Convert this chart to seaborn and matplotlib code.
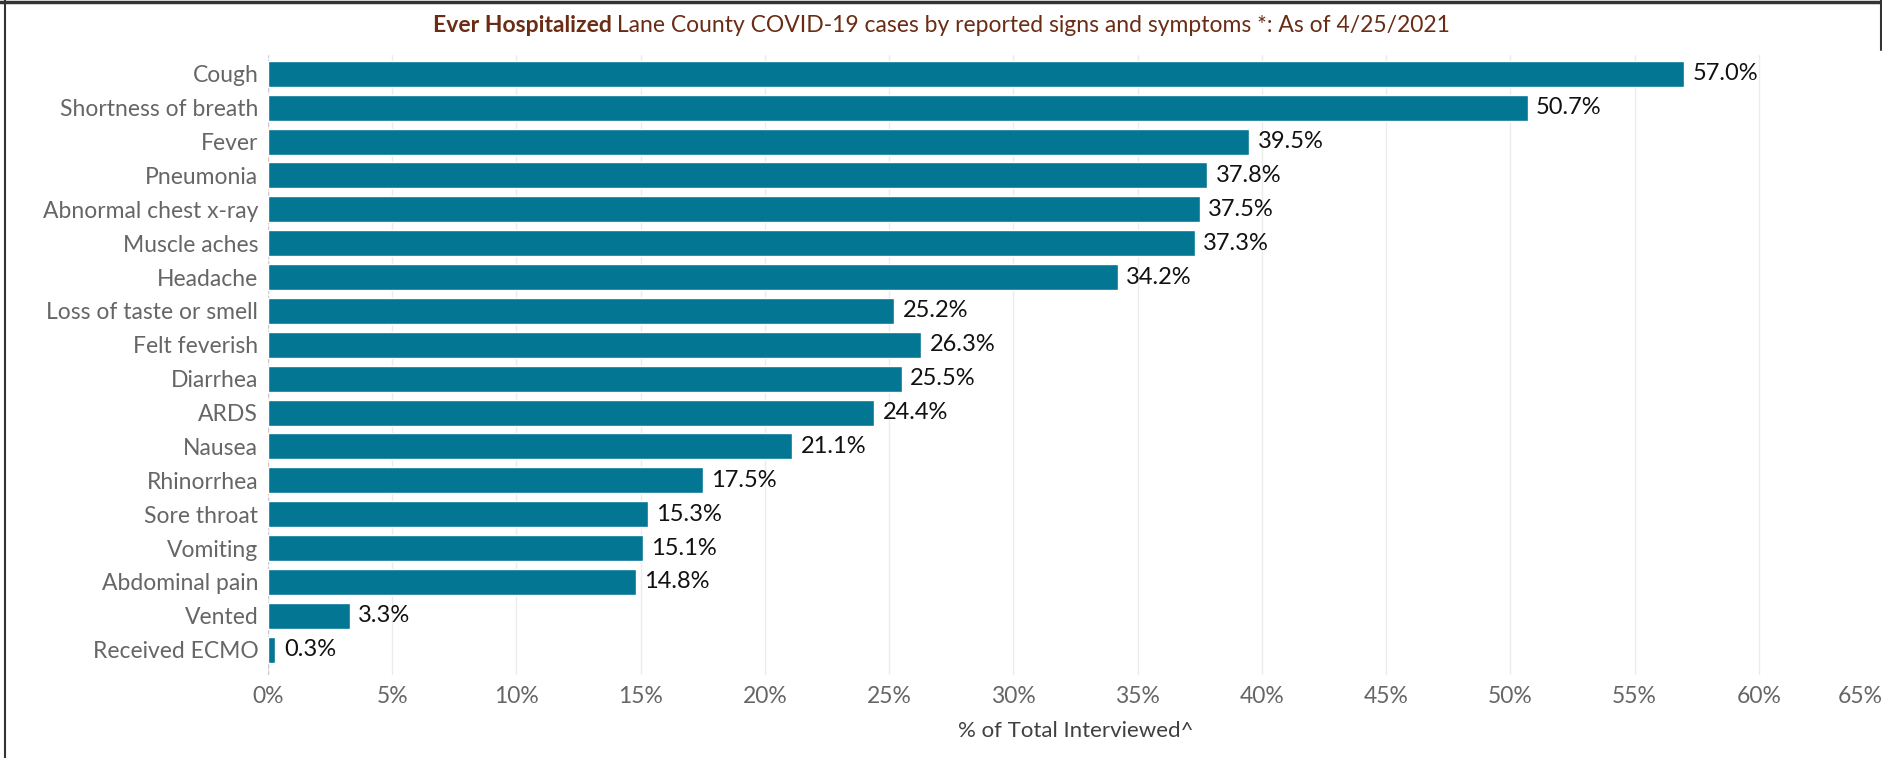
import numpy as np
import pandas as pd
import matplotlib
matplotlib.use("Agg")
import matplotlib.pyplot as plt
from matplotlib.lines import Line2D
import seaborn as sns

symptoms = ["Cough", "Shortness of breath", "Fever", "Pneumonia", "Abnormal chest x-ray",
            "Muscle aches", "Headache", "Loss of taste or smell", "Felt feverish", "Diarrhea",
            "ARDS", "Nausea", "Rhinorrhea", "Sore throat", "Vomiting", "Abdominal pain",
            "Vented", "Received ECMO"]
pct = [57.0, 50.7, 39.5, 37.8, 37.5, 37.3, 34.2, 25.2, 26.3, 25.5,
       24.4, 21.1, 17.5, 15.3, 15.1, 14.8, 3.3, 0.3]
x_ticks = [0, 5, 10, 15, 20, 25, 30, 35, 40, 45, 50, 55, 60, 65]

df = pd.DataFrame({"Symptom": symptoms, "Pct": pct})

sns.set_style("white")
plt.rcParams['font.family'] = ['Lato', 'DejaVu Sans']

fig = plt.figure(figsize=(18.83, 7.58), dpi=100)
ax = fig.add_axes([268 / 1883, 83 / 758, 1 - 268 / 1883, (675 - 55) / 758])

sns.barplot(data=df, x="Pct", y="Symptom", color="#037694", saturation=1,
            width=0.77, ax=ax, zorder=3)

ax.bar_label(ax.containers[0], labels=[f"{v:.1f}%" for v in pct], padding=6,
             fontsize=17, color="#111111")

ax.set_xlim(0, 65)
ax.set_ylim(len(symptoms) - 1 + 0.747, -0.555)
ax.set_xticks(x_ticks)
ax.set_xticklabels([f"{t}%" for t in x_ticks])
ax.get_xticklabels()[-1].set_ha("right")
ax.tick_params(axis="x", length=0, pad=8, labelsize=16.5, labelcolor="#666666")
ax.tick_params(axis="y", length=0, pad=7, labelsize=16.5, labelcolor="#666666")
ax.set_ylabel("")
ax.set_xlabel("% of Total Interviewed^", fontsize=16, color="#404040", labelpad=10)

ax.grid(axis="x", color="#ececec", lw=1, zorder=0)
ax.axvline(0, color="#c8c8c8", lw=1, ls=(0, (3, 2)), zorder=1)
for s in ax.spines.values():
    s.set_visible(False)

# title: bold part + normal part, centred together
title_color = "#6A2C14"
ty = 1 - 26 / 758
t1 = fig.text(0, ty, "Ever Hospitalized", fontsize=16.5, fontweight="bold",
              color=title_color, va="center", ha="left")
t2 = fig.text(0, ty, " Lane County COVID-19 cases by reported signs and symptoms *: As of 4/25/2021",
              fontsize=16.5, color=title_color, va="center", ha="left")
r = fig.canvas.get_renderer()
w1 = t1.get_window_extent(r).width / fig.bbox.width
w2 = t2.get_window_extent(r).width / fig.bbox.width
x0 = 0.5 - (w1 + w2) / 2
t1.set_x(x0)
t2.set_x(x0 + w1)

# frame lines
fig.add_artist(Line2D([4.5 / 1883, 4.5 / 1883], [0, 1], color="#333333", lw=1.5))
fig.add_artist(Line2D([0, 1], [1 - 2 / 758, 1 - 2 / 758], color="#333333", lw=2.5))
fig.add_artist(Line2D([1 - 1.5 / 1883, 1 - 1.5 / 1883], [1, 1 - 50 / 758], color="#333333", lw=1.5))

fig.savefig("out.png", dpi=100)
